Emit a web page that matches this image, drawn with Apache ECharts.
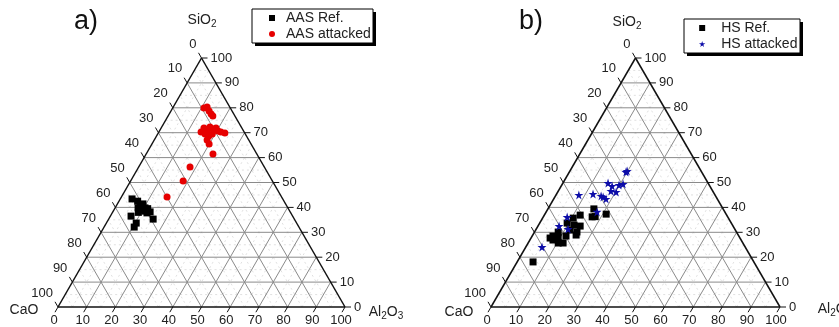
<!DOCTYPE html>
<html>
<head>
<meta charset="utf-8">
<script src="https://cdn.jsdelivr.net/npm/echarts@6/dist/echarts.min.js"></script>
<style>
  html, body { margin: 0; padding: 0; background: #fff; }
  #main { width: 839px; height: 327px; }
</style>
</head>
<body>
<div id="main"></div>
<script>
// compositions as [CaO, Al2O3, SiO2] (%)
var majorTicks = [0, 10, 20, 30, 40, 50, 60, 70, 80, 90, 100];
var minorTicks = [5, 15, 25, 35, 45, 55, 65, 75, 85, 95];

var aasRef = [
    [52.5, 4.1, 43.4], [50.9, 8.1, 41.0], [49.8, 10.4, 39.8], [48.8, 13.0, 38.2],
    [49.2, 15.5, 35.3], [56.3, 7.2, 36.5], [55.9, 10.4, 33.7], [57.4, 10.5, 32.1],
    [52.2, 8.0, 39.8], [49.7, 8.9, 41.4], [50.1, 12.1, 37.8], [51.5, 9.5, 39.0],
    [50.5, 11.0, 38.5], [53.0, 9.0, 38.0], [51.0, 6.5, 42.5], [49.0, 11.5, 39.5]
];
var aasAttacked = [
    [9.2, 10.9, 79.9], [7.9, 11.8, 80.3], [8.0, 13.3, 78.7], [7.9, 14.6, 77.5],
    [7.7, 15.6, 76.7], [15.0, 14.7, 70.3], [13.2, 14.9, 71.9], [12.5, 16.4, 71.1],
    [10.9, 16.8, 72.3], [10.2, 18.3, 71.5], [9.0, 19.1, 71.9], [8.9, 20.4, 70.7],
    [8.1, 21.6, 70.3], [6.9, 23.2, 69.9], [14.0, 16.5, 69.5], [13.1, 18.2, 68.7],
    [11.5, 19.0, 69.5], [14.5, 18.4, 67.1], [14.6, 19.9, 65.5], [15.3, 23.3, 61.4],
    [25.9, 17.9, 56.2], [31.1, 18.3, 50.6], [39.9, 15.9, 44.2]
];
var hsRef = [
    [76.4, 5.5, 18.1], [65.7, 6.6, 27.7], [65.1, 8.0, 26.9], [63.5, 9.2, 27.3],
    [63.9, 10.4, 25.7], [62.2, 12.1, 25.7], [61.7, 8.2, 30.1], [62.7, 9.2, 28.1],
    [56.8, 9.5, 33.7], [53.7, 10.6, 35.7], [54.8, 12.3, 32.9], [56.1, 15.0, 28.9],
    [50.7, 12.4, 36.9], [52.9, 14.6, 32.5], [55.2, 14.7, 30.1], [44.7, 15.9, 39.4],
    [45.8, 17.9, 36.3], [41.5, 21.2, 37.3], [46.9, 16.9, 36.2], [57.2, 11.9, 30.9],
    [59.8, 11.7, 28.5], [64.3, 7.2, 28.5]
];
var hsAttacked = [
    [26.2, 19.6, 54.2], [25.6, 19.8, 54.6], [34.6, 15.6, 49.8], [33.8, 17.6, 48.6],
    [31.2, 19.8, 49.0], [29.6, 21.0, 49.4], [35.2, 18.2, 46.6], [33.6, 20.2, 46.2],
    [47.1, 7.9, 45.0], [42.0, 12.6, 45.4], [39.6, 15.8, 44.6], [39.1, 16.7, 44.2],
    [38.5, 18.1, 43.4], [44.2, 17.6, 38.2], [55.6, 8.3, 36.1], [60.2, 7.3, 32.5],
    [57.7, 11.0, 31.3], [70.3, 5.6, 24.1]
];

var SQ = Math.sqrt(3) / 2;
var STAR = 'path://M50,0 L61,35 L98,35 L68,57 L79,91 L50,70 L21,91 L32,57 L2,35 L39,35 Z';
var SQUARE = 'path://M0,0 L10,0 L10,10 L0,10 Z';
var FONT = 'Liberation Sans, Arial, sans-serif';

// ternary -> cartesian (x along bottom, y up)
function tern(c) {
    return [c[1] + c[2] / 2, c[2] * SQ];
}

// grid segments: [x1, y1, x2, y2, kind]  kind 0 minor, 1 major, 2 frame
function buildSegments() {
    var segs = [];
    function add(a, b, kind) {
        var p = tern(a), q = tern(b);
        segs.push([p[0], p[1], q[0], q[1], kind]);
    }
    minorTicks.concat(majorTicks.slice(1, -1)).forEach(function (t) {
        var kind = t % 10 === 0 ? 1 : 0;
        add([100 - t, 0, t], [0, 100 - t, t], kind);      // const SiO2
        add([100 - t, t, 0], [0, t, 100 - t], kind);      // const Al2O3
        add([t, 100 - t, 0], [t, 0, 100 - t], kind);      // const CaO
    });
    add([100, 0, 0], [0, 100, 0], 2);
    add([0, 100, 0], [0, 0, 100], 2);
    add([0, 0, 100], [100, 0, 0], 2);
    return segs;
}

// tick marks: [x, y, side, value]  side 0 CaO(left) 1 SiO2(right) 2 Al2O3(bottom)
function buildTicks() {
    var out = [];
    majorTicks.forEach(function (t) {
        var p;
        p = tern([t, 0, 100 - t]); out.push([p[0], p[1], 0, t]);
        p = tern([0, 100 - t, t]); out.push([p[0], p[1], 1, t]);
        p = tern([100 - t, t, 0]); out.push([p[0], p[1], 2, t]);
    });
    return out;
}

function renderSeg(params, api) {
    var p1 = api.coord([api.value(0), api.value(1)]);
    var p2 = api.coord([api.value(2), api.value(3)]);
    var kind = api.value(4);
    var style = kind === 2 ? { stroke: '#111', lineWidth: 1.5 }
        : kind === 1 ? { stroke: '#8a8a8a', lineWidth: 1 }
        : { stroke: '#d2d2d2', lineWidth: 0.7, lineDash: [2, 3] };
    return { type: 'line', shape: { x1: p1[0], y1: p1[1], x2: p2[0], y2: p2[1] }, style: style, silent: true };
}

function renderTick(params, api) {
    var p = api.coord([api.value(0), api.value(1)]);
    var side = api.value(2);
    var label = String(api.value(3));
    var dirs = [[-0.5, -0.866], [1, 0], [-0.5, 0.866]];
    var d = dirs[side];
    var len = 6;
    var txt;
    if (side === 0) txt = { x: p[0] - 5, y: p[1] - 14, align: 'right' };
    else if (side === 1) txt = { x: p[0] + 9, y: p[1], align: 'left' };
    else txt = { x: p[0] - 4, y: p[1] + 13, align: 'center' };
    return {
        type: 'group',
        children: [
            { type: 'line', shape: { x1: p[0], y1: p[1], x2: p[0] + d[0] * len, y2: p[1] + d[1] * len },
              style: { stroke: '#111', lineWidth: 1 } },
            { type: 'text', x: txt.x, y: txt.y,
              style: { text: label, align: txt.align, verticalAlign: 'middle', fill: '#222',
                       fontSize: 13, fontFamily: FONT } }
        ]
    };
}

function panelSeries(idx, refName, attName, ref, att, attColor, attSymbol, attSize) {
    return [
        { type: 'custom', xAxisIndex: idx, yAxisIndex: idx, renderItem: renderSeg,
          data: buildSegments(), silent: true, clip: false, z: 1 },
        { type: 'custom', xAxisIndex: idx, yAxisIndex: idx, renderItem: renderTick,
          data: buildTicks(), silent: true, clip: false, z: 2 },
        { name: refName, type: 'scatter', xAxisIndex: idx, yAxisIndex: idx,
          symbol: SQUARE, symbolSize: 7, itemStyle: { color: '#000', opacity: 1 },
          data: ref.map(tern), z: 5 },
        { name: attName, type: 'scatter', xAxisIndex: idx, yAxisIndex: idx,
          symbol: attSymbol, symbolSize: attSize, itemStyle: { color: attColor, opacity: 1 },
          data: att.map(tern), z: 6 }
    ];
}

// text with subscripts: parts like ['Al', '2', 'O', '3'] (odd entries are subscripts)
function subText(x, y, parts) {
    var s = parts.map(function (p, i) { return (i % 2 ? '{s|' : '{n|') + p + '}'; }).join('');
    return {
        type: 'text', x: x, y: y,
        style: {
            text: s, align: 'center', verticalAlign: 'middle',
            rich: {
                n: { fontSize: 14, fontFamily: FONT, fill: '#222' },
                s: { fontSize: 10, fontFamily: FONT, fill: '#222', padding: [9, 0, 0, 0] }
            }
        }
    };
}

function legendBox(x, y, w, h) {
    return [
        { type: 'rect', shape: { x: x + 3, y: y + 3, width: w, height: h }, style: { fill: '#000' }, z: 10 },
        { type: 'rect', shape: { x: x, y: y, width: w, height: h },
          style: { fill: '#fff', stroke: '#000', lineWidth: 1 }, z: 11 }
    ];
}

var chart = echarts.init(document.getElementById('main'));
var legendBase = {
    orient: 'vertical', itemGap: 0, z: 20,
    itemHeight: 6, symbolKeepAspect: true,
    textStyle: { fontSize: 14, fontFamily: FONT, color: '#222', lineHeight: 16 }
};

var option = {
    animation: false,
    backgroundColor: '#fff',
    grid: [
        { left: 58, top: 58, width: 287, height: 249 },
        { left: 491, top: 58, width: 289, height: 249 }
    ],
    xAxis: [
        { gridIndex: 0, type: 'value', min: 0, max: 100, show: false },
        { gridIndex: 1, type: 'value', min: 0, max: 100, show: false }
    ],
    yAxis: [
        { gridIndex: 0, type: 'value', min: 0, max: 100 * SQ, show: false },
        { gridIndex: 1, type: 'value', min: 0, max: 100 * SQ, show: false }
    ],
    legend: [
        Object.assign({}, legendBase, { left: 252, top: 9, itemWidth: 18, padding: [1, 4, 2, 17],
            data: [{ name: 'AAS Ref.', icon: SQUARE }, { name: 'AAS attacked', icon: 'circle' }] }),
        Object.assign({}, legendBase, { left: 684, top: 19, itemWidth: 28, padding: [1, 2, 2, 15],
            data: [{ name: 'HS Ref.', icon: SQUARE }, { name: 'HS attacked', icon: STAR }] })
    ],
    graphic: [].concat(
        legendBox(252, 9, 121, 34),
        legendBox(684, 19, 116, 34),
        [
            { type: 'text', x: 86, y: 22, style: { text: 'a)', fontSize: 27, fontFamily: FONT, fill: '#111',
              align: 'center', verticalAlign: 'middle' } },
            { type: 'text', x: 531, y: 22, style: { text: 'b)', fontSize: 27, fontFamily: FONT, fill: '#111',
              align: 'center', verticalAlign: 'middle' } },
            subText(202, 20, ['SiO', '2']),
            subText(627, 22, ['SiO', '2']),
            { type: 'text', x: 24, y: 310, style: { text: 'CaO', fontSize: 14, fontFamily: FONT, fill: '#222',
              align: 'center', verticalAlign: 'middle' } },
            { type: 'text', x: 459, y: 312, style: { text: 'CaO', fontSize: 14, fontFamily: FONT, fill: '#222',
              align: 'center', verticalAlign: 'middle' } },
            subText(386, 312, ['Al', '2', 'O', '3']),
            subText(835, 309, ['Al', '2', 'O', '3'])
        ]
    ),
    series: [].concat(
        panelSeries(0, 'AAS Ref.', 'AAS attacked', aasRef, aasAttacked, '#e60000', 'circle', 7),
        panelSeries(1, 'HS Ref.', 'HS attacked', hsRef, hsAttacked, '#0c0ca8', STAR, 9)
    )
};
chart.setOption(option);
</script>
</body>
</html>
